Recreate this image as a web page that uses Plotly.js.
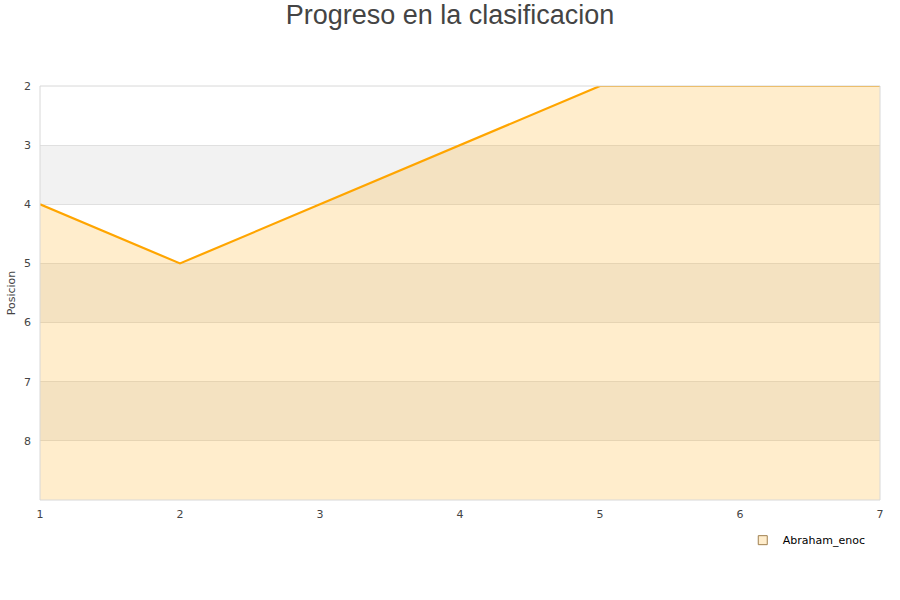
<!DOCTYPE html>
<html>
<head>
<meta charset="utf-8">
<script src="https://cdn.plot.ly/plotly-3.0.1.min.js"></script>
<style>html,body{margin:0;padding:0;background:#fff;}#chart{width:900px;height:600px;}</style>
</head>
<body>
<div id="chart"></div>
<script>
var jornadas = [1, 2, 3, 4, 5, 6, 7];
var posiciones = [4, 5, 4, 3, 2, 2, 2];
var jugador = "Abraham_enoc";
var posMin = 2, posMax = 9;
var yTicks = [2, 3, 4, 5, 6, 7, 8];

var baseline = jornadas.map(function(){ return posMax; });

var shapes = [];
for (var p = posMin; p < posMax; p++) {
  if ((p - posMin) % 2 === 1) {
    shapes.push({type:'rect', xref:'paper', yref:'y', x0:0, x1:1, y0:p, y1:p+1,
      fillcolor:'#f2f2f2', line:{width:0}, layer:'below'});
  }
}
shapes.push({type:'rect', xref:'paper', yref:'paper', x0:0, x1:1, y0:0, y1:1,
  line:{color:'#d8d8d8', width:1}, fillcolor:'rgba(0,0,0,0)', layer:'above'});

var traces = [
  {x: jornadas, y: baseline, mode:'lines', line:{width:0, color:'rgba(0,0,0,0)'}, showlegend:false, hoverinfo:'skip'},
  {x: jornadas, y: posiciones, mode:'lines', fill:'tonexty', fillcolor:'rgba(255,165,0,0.2)',
   line:{color:'#ffa500', width:2.2}, showlegend:false, name: jugador},
  {x:[null], y:[null], mode:'markers', name: jugador,
   marker:{symbol:'square', size:9, color:'rgba(255,165,0,0.2)', line:{color:'#a08050', width:1}}}
];

var layout = {
  width:900, height:600,
  margin:{l:40, r:20, t:86, b:100},
  paper_bgcolor:'#ffffff', plot_bgcolor:'#ffffff',
  font:{family:'DejaVu Sans, sans-serif', size:11, color:'#444'},
  title:{text:'Progreso en la clasificacion', font:{size:27, color:'#444', family:'Liberation Sans, Arial, sans-serif'}, x:0.5, xanchor:'center', y:0.992, yanchor:'top'},
  xaxis:{range:[1,7], tickvals:jornadas, showgrid:false, zeroline:false, showline:false, ticks:'', ticklabelstandoff:6, tickfont:{size:11, color:'#444'}},
  yaxis:{range:[posMax, posMin], tickvals:yTicks, showgrid:true, gridcolor:'#e0e0e0', zeroline:false, showline:false, ticks:'', ticklabelstandoff:8,
    tickfont:{size:11, color:'#444'}, title:{text:'Posicion', font:{size:11, color:'#444'}, standoff:6}},
  shapes: shapes,
  showlegend:true,
  legend:{orientation:'h', x:0.989, xanchor:'right', y:-0.097, yanchor:'middle', font:{size:11, color:'#000'}, bgcolor:'rgba(0,0,0,0)'}
};

Plotly.newPlot('chart', traces, layout, {displayModeBar:false, staticPlot:true});
</script>
</body>
</html>
